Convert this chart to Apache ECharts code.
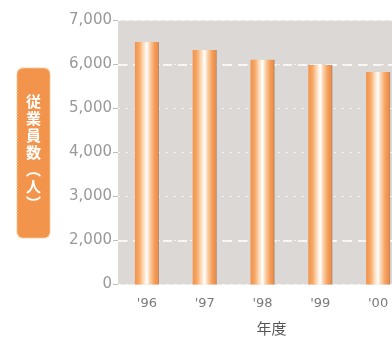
<!DOCTYPE html>
<html>
<head>
<meta charset="utf-8">
<script src="https://cdn.jsdelivr.net/npm/echarts@6/dist/echarts.min.js"></script>
<style>
  html, body { margin: 0; padding: 0; background: #ffffff; }
  #chart { width: 392px; height: 338px; }
</style>
</head>
<body>
<div id="chart"></div>
<script>
// Fiscal years and headcount per year
const years = ["'96", "'97", "'98", "'99", "'00"];
const headcount = [6510, 6330, 6110, 5990, 5830];

// Value axis: the span below 2,000 is cut out, so the axis base is drawn as "0"
const axisBase = 1000;
const axisTop = 7000;
const axisStep = 1000;
const baseLabel = '0';

// Emphasised guide lines (long dashes); the rest are faint dots
const strongGuides = [2000, 6000];

// Vertical title, one character per line
const yTitleChars = ['従', '業', '員', '数', '︵', '人', '︶'];
const xTitle = '年度';

const chart = echarts.init(document.getElementById('chart'), null, { renderer: 'canvas' });

const barFill = new echarts.graphic.LinearGradient(0, 0, 1, 0, [
  { offset: 0.00, color: '#f2924a' },
  { offset: 0.18, color: '#f6a866' },
  { offset: 0.38, color: '#fde2c6' },
  { offset: 0.50, color: '#ffffff' },
  { offset: 0.62, color: '#fbd2aa' },
  { offset: 0.82, color: '#f39c58' },
  { offset: 0.94, color: '#f09048' },
  { offset: 1.00, color: '#a48070' }
]);

chart.setOption({
  animation: false,
  grid: {
    left: 118, width: 289, top: 20.5, bottom: 53.5,
    outerBoundsMode: 'none',
    containLabel: false,
    show: true,
    backgroundColor: '#dcd8d6',
    borderWidth: 0
  },
  xAxis: {
    type: 'category',
    data: years,
    boundaryGap: true,
    axisLine: { show: false },
    axisTick: { show: false },
    axisLabel: {
      color: '#7a7a7a',
      fontFamily: 'DejaVu Sans',
      fontSize: 13,
      margin: 13
    },
    name: xTitle,
    nameLocation: 'middle',
    nameGap: 36,
    nameTextStyle: {
      color: '#555555',
      fontFamily: 'Noto Sans CJK JP',
      fontSize: 15,
      padding: [0, 0, 0, 18]
    }
  },
  yAxis: {
    type: 'value',
    min: axisBase,
    max: axisTop,
    interval: axisStep,
    axisLine: { show: false },
    axisTick: { show: true, length: 5, lineStyle: { color: '#bdbdbd' } },
    axisLabel: {
      color: '#999999',
      fontFamily: 'DejaVu Sans',
      fontSize: 15,
      margin: 6,
      formatter: v => v === axisBase ? baseLabel : v.toLocaleString('en-US')
    },
    splitLine: {
      show: true,
      lineStyle: { color: 'rgba(255,255,255,0.75)', width: 1.2, type: [2, 6] }
    }
  },
  series: [{
    type: 'bar',
    data: headcount,
    barWidth: 24,
    z: 3,
    itemStyle: { color: barFill },
    markLine: {
      silent: true,
      z: 1,
      symbol: 'none',
      label: { show: false },
      lineStyle: { color: '#ffffff', width: 1.5, type: [9, 6] },
      data: strongGuides.map(v => ({ yAxis: v }))
    }
  }],
  graphic: [
    {
      type: 'rect',
      shape: { x: 17, y: 68, width: 33, height: 170, r: 6 },
      style: { fill: '#f2944c', stroke: '#f9c796', lineWidth: 1.5, lineDash: [1.5, 1.5] }
    },
    {
      type: 'text',
      x: 33.5, y: 152,
      style: {
        text: yTitleChars.join('\n'),
        fill: '#ffffff',
        font: 'bold 15px "Noto Sans CJK JP"',
        lineHeight: 17,
        align: 'center',
        verticalAlign: 'middle'
      }
    }
  ]
});
</script>
</body>
</html>
